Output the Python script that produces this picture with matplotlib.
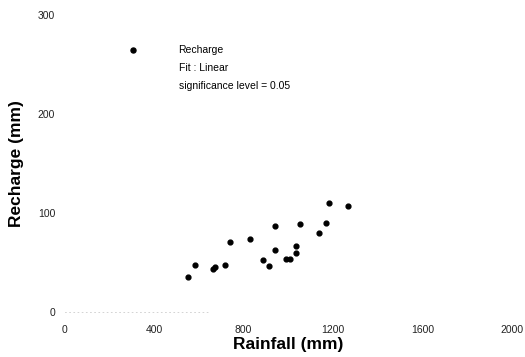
"""Recharge vs rainfall scatter"""

import matplotlib
matplotlib.use("Agg")
import matplotlib.pyplot as plt
from matplotlib.lines import Line2D

plt.rcParams["font.family"] = ["Liberation Sans", "DejaVu Sans"]

# Data
rainfall_mm = [552, 582, 664, 673, 718, 740, 830, 888, 912, 939,
               942, 988, 1008, 1033, 1034, 1054, 1136, 1169, 1182, 1266]
recharge_mm = [35.7, 47.5, 43.7, 45.2, 47.2, 70.4, 73.7, 52.8, 46.2, 87.2,
               62.3, 53.5, 53.8, 59.3, 66.4, 89.2, 80.1, 89.6, 109.8, 107.4]

x_ticks = [0, 400, 800, 1200, 1600, 2000]
y_ticks = [0, 100, 200, 300]
legend_labels = ["Recharge", "Fit : Linear", "significance level = 0.05"]

fig = plt.figure(figsize=(5.25, 3.57), dpi=100)
ax = fig.add_axes([0.1238, 0.126, 0.8507, 0.832])

ax.scatter(rainfall_mm, recharge_mm, s=12, color="black", zorder=3)

ax.set_xlim(0, 2000)
ax.set_ylim(0, 300)
ax.set_xticks(x_ticks)
ax.set_yticks(y_ticks)
ax.tick_params(length=0, labelsize=7.5, colors="#222222")
ax.tick_params(axis="x", pad=9)
ax.tick_params(axis="y", pad=7)
for side in ["top", "right", "left"]:
    ax.spines[side].set_visible(False)
ax.spines["bottom"].set_color("#cccccc")
ax.spines["bottom"].set_linestyle((0, (1, 4)))
ax.spines["bottom"].set_linewidth(0.6)
ax.spines["bottom"].set_bounds(0, 650)

ax.set_xlabel("Rainfall (mm)", fontsize=12.5, fontweight="bold", labelpad=2)
ax.set_ylabel("Recharge (mm)", fontsize=12.5, fontweight="bold", labelpad=10)

handles = [
    Line2D([], [], linestyle="none", marker="o", markersize=3.6, color="black"),
    Line2D([], [], linestyle="none", marker="none"),
    Line2D([], [], linestyle="none", marker="none"),
]
ax.legend(handles, legend_labels, loc="upper left",
          bbox_to_anchor=(0.14, 0.898), frameon=False, fontsize=7.5,
          handlelength=1.0, handletextpad=3.9, labelspacing=0.75,
          borderaxespad=0, borderpad=0)

fig.savefig("out.png", dpi=100)
